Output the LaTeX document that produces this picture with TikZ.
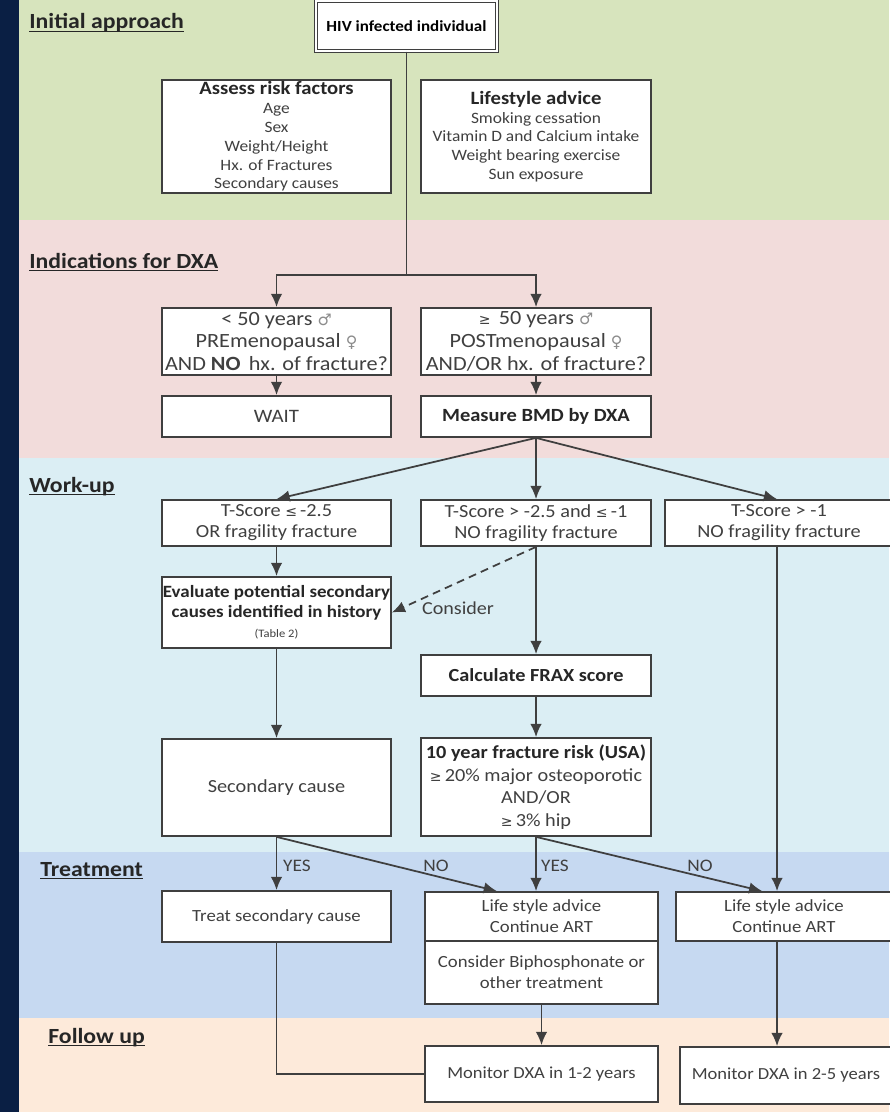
\documentclass[tikz,border=0pt]{standalone}
\usepackage{fontspec}
\setmainfont{Carlito}[FakeStretch=1.1]
\newfontfamily\symfont{DejaVu Sans}
\usepackage{tikz}
\usetikzlibrary{arrows.meta, positioning, calc}

\definecolor{navy}{HTML}{0A1F44}
\definecolor{bandgreen}{HTML}{D7E4BD}
\definecolor{bandpink}{HTML}{F2DCDB}
\definecolor{bandsky}{HTML}{DBEEF4}
\definecolor{bandblue}{HTML}{C6D9F1}
\definecolor{bandpeach}{HTML}{FDEADA}
\definecolor{boxgray}{HTML}{3F3F3F}
\definecolor{txtgray}{HTML}{404040}
\definecolor{symgray}{HTML}{8C8C8C}

\newcommand{\malesym}{{\symfont\color{symgray}\small ♂}}
\newcommand{\femsym}{{\symfont\color{symgray}\small ♀}}
\newcommand{\gesym}{{\symfont\footnotesize ≥}}
\newcommand{\lesym}{{\symfont\footnotesize ≤}}
\newcommand{\headline}[1]{\underline{\smash{#1}}}

\begin{document}
\begin{tikzpicture}[x=0.02cm, y=-0.02cm,
        box/.style={draw=boxgray, line width=1pt, fill=white, align=center, text=txtgray, inner sep=0.5pt},
        colL/.style={box, minimum width=4.58cm},
        colM/.style={box, minimum width=4.6cm},
        head/.style={anchor=base west, inner sep=0pt, font=\fontsize{12.3}{14}\selectfont\bfseries, text=black!85},
        lbl/.style={font=\fontsize{10}{12}\selectfont, text=txtgray},
        line/.style={draw=boxgray, line width=1pt},
        arrow/.style={line, -{Latex[length=7.5pt, width=6.5pt]}}
    ]
    \useasboundingbox (0,0) rectangle (889,1112);

    % Bands
    \fill[bandgreen] (19,0) rectangle (889,220);
    \fill[bandpink] (19,220) rectangle (889,458);
    \fill[bandsky] (19,458) rectangle (889,852);
    \fill[bandblue] (19,852) rectangle (889,1018);
    \fill[bandpeach] (19,1018) rectangle (889,1112);
    \fill[navy] (0,0) rectangle (19,1112);

    \node[head] (h1) at (29,29) {\headline{Initial approach}};
    \node[head] (h2) at (29,268) {\headline{Indications for DXA}};
    \node[head] (h3) at (29,492) {\headline{Work-up}};
    \node[head] (h4) at (40,876) {\headline{Treatment}};
    \node[head] (h5) at (48,1043) {\headline{Follow up}};

    % Initial approach
    \node[box, double=white, double distance=0.9pt, line width=0.8pt, minimum width=3.62cm, minimum height=1cm,
          font=\fontsize{8.8}{10}\selectfont\bfseries, text=black] (hiv) at (406.5,26) {HIV infected individual};
    \node[colL, minimum height=2.26cm, font=\fontsize{9}{10.7}\selectfont] (assess) at (276.5,136.5)
        {{\fontsize{10.7}{12}\selectfont\bfseries\color{black!85}Assess risk factors}\\Age\\Sex\\Weight/Height\\Hx. of Fractures\\Secondary causes};
    \node[colM, minimum height=2.26cm, font=\fontsize{9}{10.7}\selectfont] (advice) at (536,136.5)
        {{\fontsize{10.7}{12}\selectfont\bfseries\color{black!85}Lifestyle advice}\\Smoking cessation\\Vitamin D and Calcium intake\\Weight bearing exercise\\Sun exposure};

    % Indications for DXA
    \node[colL, minimum height=1.34cm, font=\fontsize{11.5}{13}\selectfont] (young) at (276.5,341.5)
        {< 50 years \malesym\\PREmenopausal \femsym\\AND \textbf{NO}\, hx. of fracture?};
    \node[colM, minimum height=1.34cm, font=\fontsize{11.5}{13}\selectfont] (old) at (536,341.5)
        {\gesym\, 50 years \malesym\\POSTmenopausal \femsym\\AND/OR hx. of fracture?};
    \node[colL, minimum height=0.82cm, font=\fontsize{10.8}{13}\selectfont] (wait) at (276.5,416.5) {WAIT};
    \node[colM, minimum height=0.82cm, font=\fontsize{10.6}{13}\selectfont\bfseries, text=black!85] (bmd) at (536,416.5) {Measure BMD by DXA};

    \coordinate (fork) at ($(hiv.south |- young.north)+(0,-32)$);
    \draw[line] (hiv.south) -- (fork);
    \draw[arrow] (fork) -| (young.north);
    \draw[arrow] (fork) -| (old.north);
    \draw[arrow] (young) -- (wait);
    \draw[arrow] (old) -- (bmd);

    % Work-up
    \node[colL, minimum height=0.92cm, font=\fontsize{10.5}{12}\selectfont] (tlow) at (276.5,523)
        {T-Score \lesym\,-2.5\\OR fragility fracture};
    \node[colM, minimum height=0.92cm, font=\fontsize{10.5}{12}\selectfont] (tmid) at (536,523)
        {T-Score > -2.5 and \lesym\,-1\\NO fragility fracture};
    \node[box, minimum width=4.56cm, minimum height=0.92cm, font=\fontsize{10.5}{12}\selectfont] (thigh) at (779,523)
        {T-Score > -1\\NO fragility fracture};
    \node[colL, minimum height=1.42cm, font=\fontsize{9.8}{11.4}\selectfont\bfseries, text=black!85] (eval) at (276.5,612.5)
        {Evaluate potential secondary\\causes identified in history\\{\mdseries\fontsize{6.5}{8}\selectfont\color{txtgray}(Table 2)}};
    \node[colM, minimum height=0.82cm, font=\fontsize{10.5}{12}\selectfont\bfseries, text=black!85] (frax) at (536,675.5)
        {Calculate FRAX score};
    \node[colM, minimum height=1.96cm, font=\fontsize{10.5}{12.8}\selectfont] (risk) at (536,787)
        {{\bfseries\color{black!85}10 year fracture risk (USA)}\\\gesym\,20\% major osteoporotic\\AND/OR\\\gesym\,3\% hip};
    \node[colL, minimum height=1.94cm, font=\fontsize{10.5}{12}\selectfont] (second) at (276.5,787.5) {Secondary cause};
    \node[lbl, font=\fontsize{10.4}{12}\selectfont] (consider) at (458,608) {Consider};

    \draw[arrow] (bmd.south) -- (tlow.north);
    \draw[arrow] (bmd.south) -- (tmid.north);
    \draw[arrow] (bmd.south) -- ($(thigh.north)+(-2,0)$);
    \draw[arrow] (tlow) -- (eval);
    \draw[arrow, dash pattern=on 4.5pt off 3pt] (tmid.south) -- (eval.east);
    \draw[arrow] (tmid) -- (frax);
    \draw[arrow] (frax) -- (risk);
    \draw[arrow] (eval) -- (second);

    % Treatment
    \node[colL, minimum height=1.02cm, font=\fontsize{9.7}{12}\selectfont] (treat) at (276.5,916.5) {Treat secondary cause};
    \node[box, minimum width=4.66cm, minimum height=0.98cm, font=\fontsize{9.7}{12}\selectfont] (lifeM) at (541.5,916.5)
        {Life style advice\\Continue ART};
    \node[box, minimum width=4.66cm, minimum height=1.26cm, font=\fontsize{9.7}{12}\selectfont] (bisM) at (541.5,972.5)
        {Consider Biphosphonate or\\other treatment};
    \node[box, minimum width=4.32cm, minimum height=0.98cm, font=\fontsize{9.7}{12}\selectfont] (lifeR) at (784,916.5)
        {Life style advice\\Continue ART};

    \draw[arrow] (second.south) -- (treat.north);
    \draw[arrow] (second.south) -- ($(lifeM.north west)!0.31!(lifeM.north east)$);
    \draw[arrow] (risk.south) -- (risk.south |- lifeM.north);
    \draw[arrow] (risk.south) -- ($(lifeR.north west)!0.4!(lifeR.north east)$);
    \draw[arrow] ($(thigh.south)+(-2,0)$) -- ($(thigh.south |- lifeR.north)+(-2,0)$);

    \node[lbl, anchor=west] (yes1) at (277,866) {YES};
    \node[lbl] (no1) at (436,866) {NO};
    \node[lbl, anchor=west] (yes2) at (535,866) {YES};
    \node[lbl] (no2) at (700,866) {NO};

    % Follow up
    \node[box, minimum width=4.66cm, minimum height=1.12cm, font=\fontsize{9.6}{12}\selectfont] (mon12) at (541.5,1074)
        {Monitor DXA in 1-2 years};
    \node[box, minimum width=4.24cm, minimum height=1.14cm, font=\fontsize{9.6}{12}\selectfont] (mon25) at (786,1075.5)
        {Monitor DXA in 2-5 years};

    \draw[arrow] (bisM.south) -- (mon12.north);
    \draw[arrow] ($(thigh.south |- lifeR.south)+(-2,0)$) -- ($(thigh.south |- mon25.north)+(-2,0)$);
    \draw[line] (treat.south) |- (mon12.west);

\end{tikzpicture}
\end{document}
